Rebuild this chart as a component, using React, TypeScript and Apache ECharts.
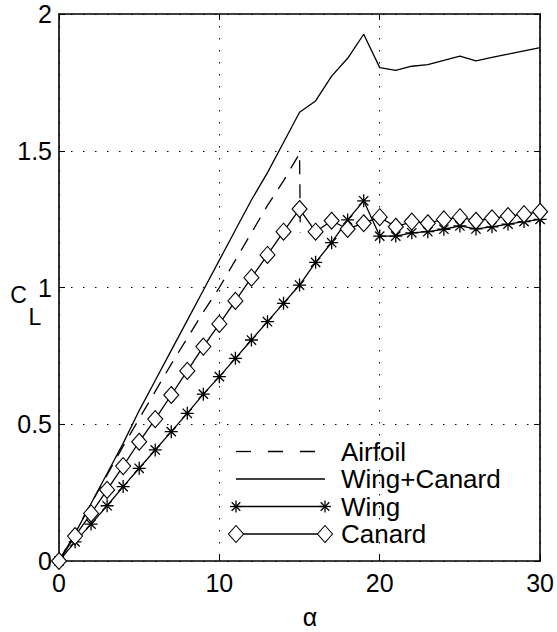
import React, { useEffect, useRef } from "react";
import * as echarts from "echarts";

const alpha: number[] = [0, 1, 2, 3, 4, 5, 6, 7, 8, 9, 10, 11, 12, 13, 14, 15, 16, 17, 18, 19, 20, 21, 22, 23, 24, 25, 26, 27, 28, 29, 30];
const airfoilAlpha: number[] = [0, 1, 2, 3, 4, 5, 6, 7, 8, 9, 10, 11, 12, 13, 14, 15, 15.05];
const airfoilCL: number[] = [0, 0.105, 0.21, 0.315, 0.42, 0.52, 0.62, 0.72, 0.815, 0.91, 1.0, 1.1, 1.2, 1.3, 1.39, 1.49, 1.2];
const wingCanardCL: number[] = [0, 0.1, 0.21, 0.32, 0.43, 0.55, 0.66, 0.77, 0.88, 0.99, 1.1, 1.21, 1.32, 1.42, 1.53, 1.641, 1.682, 1.773, 1.838, 1.926, 1.804, 1.794, 1.809, 1.815, 1.83, 1.846, 1.829, 1.841, 1.853, 1.865, 1.877];
const wingCL: number[] = [0, 0.07, 0.135, 0.202, 0.272, 0.339, 0.406, 0.473, 0.54, 0.61, 0.674, 0.741, 0.808, 0.875, 0.942, 1.009, 1.092, 1.164, 1.247, 1.317, 1.188, 1.188, 1.2, 1.204, 1.213, 1.225, 1.214, 1.222, 1.232, 1.241, 1.249];
const canardCL: number[] = [0, 0.091, 0.174, 0.26, 0.347, 0.436, 0.519, 0.607, 0.695, 0.784, 0.867, 0.951, 1.036, 1.119, 1.204, 1.287, 1.204, 1.244, 1.214, 1.235, 1.257, 1.222, 1.241, 1.235, 1.249, 1.257, 1.244, 1.253, 1.261, 1.268, 1.277];
const legendNames: string[] = ["Airfoil", "Wing+Canard", "Wing", "Canard"];
const xTicks = { min: 0, max: 30, interval: 10 };
const yTicks = { min: 0, max: 2, interval: 0.5 };

const FONT = "Liberation Sans, Arial, Helvetica, sans-serif";
const STAR = "path://M0,-6 L0,6 M-6,0 L6,0 M-4.3,-4.3 L4.3,4.3 M-4.3,4.3 L4.3,-4.3";

function pairs(xs: number[], ys: number[]) {
  return xs.map((x, i) => [x, ys[i]]);
}

function starGraphic(cx: number, cy: number, r: number) {
  const d = r * 0.72;
  const seg = (x1: number, y1: number, x2: number, y2: number) => ({
    type: "line",
    shape: { x1: cx + x1, y1: cy + y1, x2: cx + x2, y2: cy + y2 },
    style: { stroke: "#000", lineWidth: 1.3 },
  });
  return [seg(0, -r, 0, r), seg(-r, 0, r, 0), seg(-d, -d, d, d), seg(-d, d, d, -d)];
}

function diamondGraphic(cx: number, cy: number) {
  return {
    type: "polygon",
    shape: { points: [[cx, cy - 8.5], [cx + 7.5, cy], [cx, cy + 8.5], [cx - 7.5, cy]] },
    style: { fill: "#fff", stroke: "#000", lineWidth: 1.1 },
  };
}

export default function App() {
  const ref = useRef<HTMLDivElement>(null);
  useEffect(() => {
    if (!ref.current) return;
    const chart = echarts.init(ref.current, undefined, { renderer: "svg" });

    const axisLine = { show: true, onZero: false, lineStyle: { color: "#000", width: 1.6 } };
    const tick = { show: true, inside: true, length: 6, lineStyle: { color: "#000", width: 1 } };
    const grid = { show: true, lineStyle: { color: "#000", width: 1, type: [1.5, 10.5] } };
    const label = { color: "#000", fontSize: 25, fontFamily: FONT };

    const lx1 = 236, lx2 = 325, tx = 341;
    const ly = [451.5, 479, 506.5, 534];

    const g: any[] = [];
    g.push({ type: "line", shape: { x1: lx1, y1: ly[0], x2: lx2, y2: ly[0] }, style: { stroke: "#000", lineWidth: 1.3, lineDash: [15, 17] } });
    g.push({ type: "line", shape: { x1: lx1, y1: ly[1], x2: lx2, y2: ly[1] }, style: { stroke: "#000", lineWidth: 1.3 } });
    g.push({ type: "line", shape: { x1: lx1, y1: ly[2], x2: lx2, y2: ly[2] }, style: { stroke: "#000", lineWidth: 1.3 } });
    g.push(...starGraphic(lx1, ly[2], 6), ...starGraphic(lx2, ly[2], 6));
    g.push({ type: "line", shape: { x1: lx1, y1: ly[3], x2: lx2, y2: ly[3] }, style: { stroke: "#000", lineWidth: 1.3 } });
    g.push(diamondGraphic(lx1, ly[3]), diamondGraphic(lx2, ly[3]));
    legendNames.forEach((n, i) => {
      g.push({
        type: "text", x: tx, y: ly[i],
        style: { text: n, fontSize: 26, fontFamily: FONT, fill: "#000", align: "left", verticalAlign: "middle" },
      });
    });
    g.push({
      type: "text", x: 18.5, y: 294.5,
      style: { text: "C", fontSize: 23, fontFamily: FONT, fill: "#000", align: "center", verticalAlign: "middle" },
    });
    g.push({
      type: "text", x: 35, y: 317,
      style: { text: "L", fontSize: 23, fontFamily: FONT, fill: "#000", align: "center", verticalAlign: "middle" },
    });
    g.push({
      type: "text", x: 310, y: 617,
      style: { text: "α", fontSize: 25, fontFamily: FONT, fill: "#000", align: "center", verticalAlign: "middle" },
    });

    chart.setOption({
      animation: false,
      backgroundColor: "#fff",
      grid: { left: 59, right: 14, top: 14, bottom: 71, containLabel: false },
      xAxis: [
        { type: "value", position: "bottom", ...xTicks, axisLine, axisTick: tick, axisLabel: { ...label, margin: 9 }, splitLine: grid },
        { type: "value", position: "top", ...xTicks, axisLine, axisTick: tick, axisLabel: { show: false }, splitLine: { show: false } },
      ],
      yAxis: [
        { type: "value", position: "left", ...yTicks, axisLine, axisTick: tick, axisLabel: { ...label, margin: 7 }, splitLine: grid },
        { type: "value", position: "right", ...yTicks, axisLine, axisTick: tick, axisLabel: { show: false }, splitLine: { show: false } },
      ],
      series: [
        {
          name: legendNames[0], type: "line", data: pairs(airfoilAlpha, airfoilCL), symbol: "none",
          lineStyle: { color: "#000", width: 1.3, type: [14, 10] },
        },
        {
          name: legendNames[1], type: "line", data: pairs(alpha, wingCanardCL), symbol: "none",
          lineStyle: { color: "#000", width: 1.3 },
        },
        {
          name: legendNames[2], type: "line", data: pairs(alpha, wingCL), symbol: STAR, symbolSize: 13,
          itemStyle: { color: "#000", borderColor: "#000", borderWidth: 1.3 },
          lineStyle: { color: "#000", width: 1.3 },
        },
        {
          name: legendNames[3], type: "line", data: pairs(alpha, canardCL), symbol: "diamond", symbolSize: [15, 17],
          itemStyle: { color: "#fff", borderColor: "#000", borderWidth: 1.1 },
          lineStyle: { color: "#000", width: 1.3 },
        },
      ],
      graphic: g,
    });
    return () => chart.dispose();
  }, []);
  return <div ref={ref} style={{ position: "absolute", left: 0, top: 0, width: 557, height: 632 }} />;
}
